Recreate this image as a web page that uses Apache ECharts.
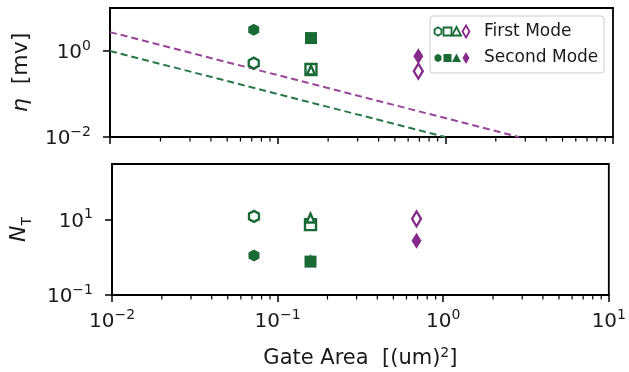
<!DOCTYPE html>
<html><head><meta charset="utf-8">
<script src="https://cdn.jsdelivr.net/npm/echarts@6/dist/echarts.min.js"></script>
<style>html,body{margin:0;padding:0;background:#fff}#c{width:629px;height:372px}</style>
</head><body><div id="c"></div>
<script>
// ---- data ----
// devices: hexagon, square, triangle, diamond
const gateArea   = [0.072, 0.158, 0.158, 0.69];
const etaFirst   = [0.52, 0.37, 0.36, 0.34];
const etaSecond  = [3.1, 2.0, 1.9, 0.75];
const ntFirst    = [12.2, 7.4, 11.0, 10.5];
const ntSecond   = [1.12, 0.77, 0.9, 2.75];
const greenFitX  = [0.01, 1.0];
const greenFitY  = [1.0, 0.01];
const purpleFitX = [0.01, 2.75];
const purpleFitY = [2.75, 0.01];
const legendLabels = ['First Mode', 'Second Mode'];

const GREEN = '#1a6a36', PURPLE = '#862a8a';
const FONT = 'DejaVu Sans';
const HEX = 'path://M0,-1L0.866,-0.5L0.866,0.5L0,1L-0.866,0.5L-0.866,-0.5Z';
const shapes = [HEX, 'rect', 'triangle', 'diamond'];
const sizesFilled = [[11, 12], [12, 12], [10, 10], [10, 16]];
const sizesOpen = [[10, 11], [11, 11], [8, 9], [9, 15]];
const colors = [GREEN, GREEN, GREEN, PURPLE];

const minorTicks = [];
for (let k = -2; k <= 0; k++) for (let m = 2; m <= 9; m++) minorTicks.push(+(m * Math.pow(10, k)).toPrecision(3));

const chart = echarts.init(document.getElementById('c'), null, {renderer: 'canvas'});

function expLabel(v) {
  const e = Math.round(Math.log10(v));
  return '{b|10}{s|' + (e < 0 ? '\u2212' + (-e) : e) + '}';
}
const richLab = {
  b: {fontSize: 20, fontFamily: FONT, color: '#1a1a1a', lineHeight: 24, verticalAlign: 'bottom'},
  s: {fontSize: 14, fontFamily: FONT, color: '#1a1a1a', lineHeight: 24, verticalAlign: 'top'}
};

function pointSeries(vals, gi, filled) {
  return vals.map((v, i) => ({
    type: 'scatter', xAxisIndex: gi, yAxisIndex: gi, z: 5,
    symbol: shapes[i], symbolSize: filled ? sizesFilled[i] : sizesOpen[i],
    data: [[gateArea[i], v]],
    itemStyle: filled ? {color: colors[i], opacity: 1} : {color: '#fff', borderColor: colors[i], borderWidth: 2.4, opacity: 1},
    silent: true
  }));
}
function lineSeries(xs, ys, color) {
  return {type: 'line', xAxisIndex: 0, yAxisIndex: 0, z: 3, symbol: 'none',
    data: xs.map((x, i) => [x, ys[i]]),
    lineStyle: {color: color, width: 2, type: [7, 4]}, silent: true};
}
function minorSeries(gi, ymin) {
  return {type: 'custom', xAxisIndex: gi, yAxisIndex: gi, silent: true, z: 10,
    data: minorTicks.map(v => [v, ymin]),
    renderItem: (params, api) => {
      const p = api.coord([api.value(0), api.value(1)]);
      return {type: 'line', shape: {x1: p[0], y1: p[1], x2: p[0], y2: p[1] + 4.5},
        style: {stroke: '#000', lineWidth: 1.2}};
    }};
}

const axLine = {show: true, lineStyle: {color: '#000', width: 1.8}};
const tick = {show: true, length: 7, lineStyle: {color: '#000', width: 1.5}};
const xAxisBase = {type: 'log', logBase: 10, min: 0.01, max: 10, interval: 1,
  axisLine: axLine, axisTick: tick, splitLine: {show: false}, minorTick: {show: false}};

function hexPts(cx, cy, r) { const a = []; for (let k = 0; k < 6; k++) { const t = Math.PI / 3 * k - Math.PI / 2; a.push([cx + r * 0.95 * Math.cos(t), cy + r * Math.sin(t)]); } return a; }
function legendRow(y, filled) {
  const st = c => filled ? {fill: c} : {fill: '#fff', stroke: c, lineWidth: 1.8};
  return [
    {type: 'polygon', shape: {points: hexPts(438, y, 4.2)}, style: st(GREEN)},
    {type: 'rect', shape: {x: 443.5, y: y - 4, width: 8, height: 8}, style: st(GREEN)},
    {type: 'polygon', shape: {points: [[456.5, y - 4.5], [461, y + 4], [452, y + 4]]}, style: st(GREEN)},
    {type: 'polygon', shape: {points: [[466, y - 6], [469.5, y], [466, y + 6], [462.5, y]]}, style: st(PURPLE)}
  ];
}

chart.setOption({
  animation: false,
  backgroundColor: '#fff',
  grid: [
    {left: 110, top: 8, width: 503, height: 129, show: true, borderColor: '#000', borderWidth: 1.8, backgroundColor: 'transparent'},
    {left: 110, top: 164, width: 503, height: 131, show: true, borderColor: '#000', borderWidth: 1.8, backgroundColor: 'transparent'}
  ],
  xAxis: [
    Object.assign({}, xAxisBase, {gridIndex: 0, axisLabel: {show: false}}),
    Object.assign({}, xAxisBase, {gridIndex: 1,
      axisLabel: {show: true, margin: 13, formatter: expLabel, rich: richLab},
      name: 'Gate Area  [(um){s|2}]', nameLocation: 'middle', nameGap: 51,
      nameTextStyle: {fontSize: 21, fontFamily: FONT, color: '#1a1a1a',
        rich: {s: {fontSize: 14, fontFamily: FONT, color: '#1a1a1a', verticalAlign: 'top', lineHeight: 25}}}})
  ],
  yAxis: [
    {type: 'log', logBase: 10, gridIndex: 0, min: 0.01, max: 10, interval: 2,
      axisLine: axLine, axisTick: tick, splitLine: {show: false},
      axisLabel: {show: true, margin: 19, formatter: expLabel, rich: richLab, showMaxLabel: false},
      name: '{i|\u03b7}  [mv]', nameLocation: 'middle', nameGap: 78, nameRotate: 90,
      nameTextStyle: {fontSize: 22, fontFamily: FONT, color: '#1a1a1a',
        rich: {i: {fontSize: 22, fontFamily: FONT, fontStyle: 'italic', color: '#1a1a1a'}}}},
    {type: 'log', logBase: 10, gridIndex: 1, min: 0.1, max: 300, interval: 2,
      axisLine: axLine, axisTick: tick, splitLine: {show: false},
      axisLabel: {show: true, margin: 19, formatter: expLabel, rich: richLab, showMaxLabel: false},
      name: '{i|N}{t|T}', nameLocation: 'middle', nameGap: 78, nameRotate: 90,
      nameTextStyle: {fontSize: 22, fontFamily: FONT, color: '#1a1a1a',
        rich: {i: {fontSize: 22, fontFamily: FONT, fontStyle: 'italic', color: '#1a1a1a', lineHeight: 26, verticalAlign: 'top'},
               t: {fontSize: 14, fontFamily: FONT, color: '#1a1a1a', lineHeight: 26, verticalAlign: 'bottom'}}}}
  ],
  series: [
    lineSeries(purpleFitX, purpleFitY, '#9a4799'),
    lineSeries(greenFitX, greenFitY, '#2b774a'),
    ...pointSeries(etaSecond, 0, true),
    ...pointSeries(etaFirst, 0, false),
    ...pointSeries(ntFirst, 1, false),
    ...pointSeries(ntSecond, 1, true),
    minorSeries(0, 0.01),
    minorSeries(1, 0.1)
  ],
  graphic: [
    {type: 'rect', shape: {x: 430, y: 16, width: 174, height: 57, r: 3}, style: {fill: 'rgba(255,255,255,0.85)', stroke: '#cccccc', lineWidth: 1}, z: 20},
    ...legendRow(31.5, false).map(g => Object.assign(g, {z: 21})),
    ...legendRow(58, true).map(g => Object.assign(g, {z: 21})),
    {type: 'text', x: 484, y: 31.5, z: 21, style: {text: legendLabels[0], fontSize: 17, fontFamily: FONT, fill: '#1a1a1a', verticalAlign: 'middle'}},
    {type: 'text', x: 484, y: 58, z: 21, style: {text: legendLabels[1], fontSize: 17, fontFamily: FONT, fill: '#1a1a1a', verticalAlign: 'middle'}}
  ]
});
</script></body></html>
